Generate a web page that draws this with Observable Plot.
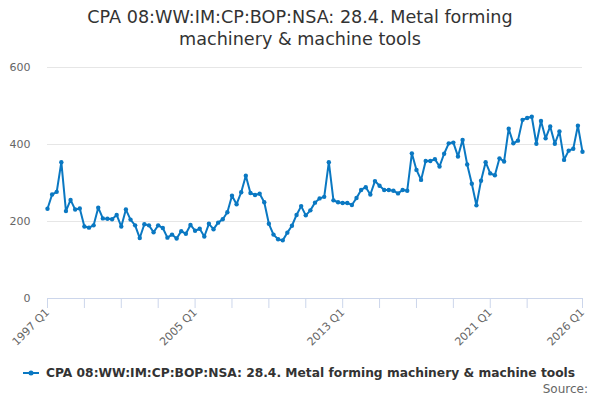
<!DOCTYPE html>
<html>
<head>
<meta charset="utf-8">
<script src="https://cdn.jsdelivr.net/npm/d3@7"></script>
<script src="https://cdn.jsdelivr.net/npm/@observablehq/plot@0.6"></script>
<style>
  html, body { margin: 0; padding: 0; background: #fff; }
  body { width: 600px; height: 400px; position: relative; overflow: hidden; font-family: "DejaVu Sans", sans-serif; }
  #title { position: absolute; top: 6px; left: 0; width: 600px; text-align: center; font-size: 17.6px; line-height: 22px; color: #333; }
  #chart { position: absolute; top: 55px; left: 0; }
  #legend { position: absolute; top: 365px; left: 22px; height: 16px; display: flex; align-items: center; font-size: 12.25px; font-weight: bold; color: #333; white-space: nowrap; }
  #legend svg { margin-right: 6px; }
  #source { position: absolute; top: 382px; right: 12px; font-size: 12px; color: #666; }
</style>
</head>
<body>
<div id="title">CPA 08:WW:IM:CP:BOP:NSA: 28.4. Metal forming<br>machinery &amp; machine tools</div>
<div id="chart"></div>
<div id="legend"></div>
<div id="source">Source:</div>
<script>
const seriesName = "CPA 08:WW:IM:CP:BOP:NSA: 28.4. Metal forming machinery & machine tools";
const startYear = 1997;
const endYear = 2026;
const endQuarter = 1;
const values = [
  233, 270, 277, 354, 227, 256, 231, 234,
  187, 184, 190, 236, 208, 207, 206, 217,
  187, 231, 205, 190, 157, 193, 190, 172,
  190, 183, 158, 166, 156, 175, 168, 191,
  176, 181, 161, 194, 180, 197, 206, 224,
  267, 245, 276, 319, 274, 269, 272, 250,
  194, 166, 154, 151, 171, 189, 217, 240,
  216, 229, 249, 260, 264, 354, 255, 250,
  248, 248, 243, 261, 282, 289, 270, 305,
  293, 282, 282, 280, 273, 282, 280, 377,
  334, 308, 357, 357, 362, 343, 376, 403,
  405, 369, 412, 348, 298, 242, 306, 354,
  325, 320, 364, 356, 441, 403, 410, 464,
  469, 472, 402, 461, 416, 447, 402, 434,
  360, 384, 389, 449, 381
];
const yTicks = [0, 200, 400, 600];
const labelledTicks = ["1997 Q1", "2005 Q1", "2013 Q1", "2021 Q1", "2026 Q1"];
const color = "#0a78c2";

const quarters = [];
for (let y = startYear; y <= endYear; y++) {
  for (let q = 1; q <= 4; q++) {
    if (y === endYear && q > endQuarter) break;
    quarters.push(`${y} Q${q}`);
  }
}
const data = quarters.map((quarter, i) => ({quarter, value: values[i]}));
const xTicks = quarters.filter((d, i) => (i % 8 === 0 && i < quarters.length - 5) || i === quarters.length - 1);

const chart = Plot.plot({
  width: 600,
  height: 290,
  marginLeft: 47,
  marginRight: 18,
  marginTop: 12,
  marginBottom: 47,
  style: {fontFamily: "DejaVu Sans", fontSize: "11px", background: "white", overflow: "visible"},
  x: {type: "point", domain: quarters, padding: 0},
  y: {domain: [0, 600]},
  marks: [
    Plot.ruleY(yTicks.filter(d => d > 0), {stroke: "#e6e6e6"}),
    Plot.axisY({ticks: yTicks, tickSize: 0, tickPadding: 17, label: null, fill: "#666", fontSize: 11}),
    Plot.ruleY([0], {stroke: "#ccd6eb"}),
    Plot.axisX({ticks: xTicks, tickSize: 10, tickRotate: -45, tickPadding: 2,
      tickFormat: d => labelledTicks.includes(d) ? d : "",
      stroke: "#ccd6eb", fill: "#666", label: null, fontSize: 11}),
    Plot.line(data, {x: "quarter", y: "value", stroke: color, strokeWidth: 2}),
    Plot.dot(data, {x: "quarter", y: "value", r: 2.2, fill: color})
  ]
});
document.getElementById("chart").appendChild(chart);

const legend = document.getElementById("legend");
legend.innerHTML = `<svg width="18" height="10"><line x1="1" y1="5" x2="17" y2="5" stroke="${color}" stroke-width="2"/><circle cx="9" cy="5" r="2.5" fill="${color}"/></svg><span></span>`;
legend.querySelector("span").textContent = seriesName;
</script>
</body>
</html>
